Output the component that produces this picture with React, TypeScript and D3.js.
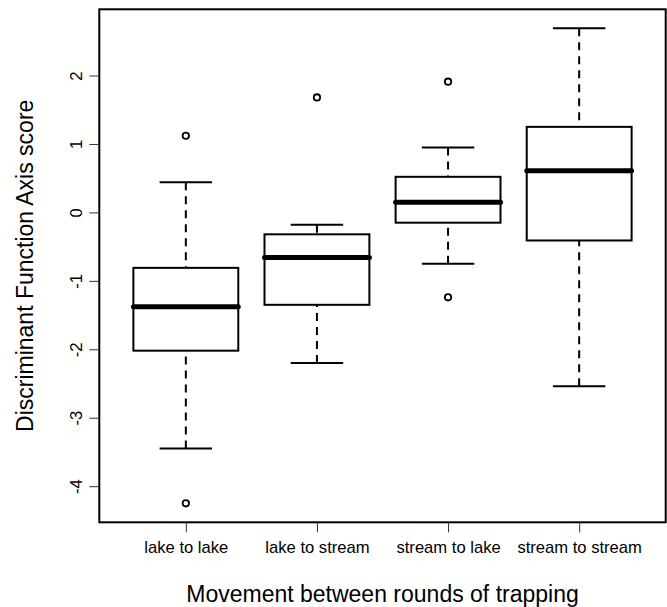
import React, { useRef, useEffect } from 'react';
import * as d3 from 'd3';

const categories = ['lake to lake', 'lake to stream', 'stream to lake', 'stream to stream'];
const whiskerLow = [-3.45, -2.2, -0.75, -2.54];
const q1 = [-2.02, -1.35, -0.15, -0.41];
const medians = [-1.38, -0.66, 0.15, 0.61];
const q3 = [-0.81, -0.32, 0.52, 1.25];
const whiskerHigh = [0.44, -0.18, 0.95, 2.69];
const outliers = [[1.12, -4.25], [1.68], [1.91, -1.24], []];
const yTicks = [-4, -3, -2, -1, 0, 1, 2];

const font = 'Liberation Sans, Arial, Helvetica, sans-serif';

const App = () => {
  const ref = useRef(null);

  useEffect(() => {
    const svg = d3.select(ref.current);
    svg.selectAll('*').remove();

    const left = 99.3, right = 665.7, top = 9.3, bottom = 522.3;

    // R style 4% extension of the data range
    const allVals = [...whiskerLow, ...whiskerHigh, ...outliers.flat()];
    const lo = d3.min(allVals), hi = d3.max(allVals);
    const ext = (hi - lo) * 0.04;

    const y = d3.scaleLinear().domain([lo - ext, hi + ext]).range([bottom, top]);
    const x = d3.scaleLinear()
      .domain([0.5 - 0.04 * categories.length, categories.length + 0.5 + 0.04 * categories.length])
      .range([left, right]);

    const boxHalf = x(1.4) - x(1);
    const stapleHalf = boxHalf / 2;

    const g = svg.append('g');

    categories.forEach((c, i) => {
      const cx = x(i + 1);
      // whiskers (drawn from the whisker end toward the box)
      g.append('line')
        .attr('x1', cx).attr('x2', cx)
        .attr('y1', y(whiskerHigh[i])).attr('y2', y(q3[i]))
        .attr('stroke', '#000').attr('stroke-width', 2).attr('stroke-dasharray', '8,6');
      g.append('line')
        .attr('x1', cx).attr('x2', cx)
        .attr('y1', y(whiskerLow[i])).attr('y2', y(q1[i]))
        .attr('stroke', '#000').attr('stroke-width', 2).attr('stroke-dasharray', '8,6');
      // staples
      [whiskerLow[i], whiskerHigh[i]].forEach(v => {
        g.append('line')
          .attr('x1', cx - stapleHalf).attr('x2', cx + stapleHalf)
          .attr('y1', y(v)).attr('y2', y(v))
          .attr('stroke', '#000').attr('stroke-width', 2);
      });
      // box
      g.append('rect')
        .attr('x', cx - boxHalf).attr('width', boxHalf * 2)
        .attr('y', y(q3[i])).attr('height', y(q1[i]) - y(q3[i]))
        .attr('fill', 'white').attr('stroke', '#000').attr('stroke-width', 2);
      // median
      g.append('line')
        .attr('x1', cx - boxHalf).attr('x2', cx + boxHalf)
        .attr('y1', y(medians[i])).attr('y2', y(medians[i]))
        .attr('stroke', '#000').attr('stroke-width', 5).attr('stroke-linecap', 'round');
      // outliers
      outliers[i].forEach(v => {
        g.append('circle')
          .attr('cx', cx).attr('cy', y(v)).attr('r', 3.2)
          .attr('fill', 'none').attr('stroke', '#000').attr('stroke-width', 1.8);
      });
    });

    // frame
    svg.append('rect')
      .attr('x', left).attr('y', top)
      .attr('width', right - left).attr('height', bottom - top)
      .attr('fill', 'none').attr('stroke', '#000').attr('stroke-width', 2);

    // y axis
    const yAxis = svg.append('g')
      .attr('transform', `translate(${left},0)`)
      .call(d3.axisLeft(y).tickValues(yTicks).tickSize(10).tickSizeOuter(0).tickFormat(d3.format('d')));
    yAxis.select('.domain').remove();
    yAxis.selectAll('.tick line').attr('stroke', '#333').attr('stroke-width', 1);
    yAxis.selectAll('.tick text')
      .attr('x', null).attr('dy', null)
      .attr('transform', 'translate(-17.5,0) rotate(-90)')
      .attr('text-anchor', 'middle')
      .attr('font-family', font).attr('font-size', 16.6).attr('fill', '#000')
      .text(d => String(d).replace('\u2212', '-'));

    // x axis
    const xAxis = svg.append('g')
      .attr('transform', `translate(0,${bottom})`)
      .call(d3.axisBottom(x).tickValues(categories.map((_, i) => i + 1)).tickSize(10).tickSizeOuter(0)
        .tickFormat((d) => categories[d - 1]));
    xAxis.select('.domain').remove();
    xAxis.selectAll('.tick line').attr('stroke', '#333').attr('stroke-width', 1);
    xAxis.selectAll('.tick text')
      .attr('y', 31).attr('dy', null)
      .attr('font-family', font).attr('font-size', 16.6).attr('fill', '#000');

    // titles
    svg.append('text')
      .attr('x', (left + right) / 2).attr('y', 601.5)
      .attr('text-anchor', 'middle')
      .attr('font-family', font).attr('font-size', 23)
      .text('Movement between rounds of trapping');

    svg.append('text')
      .attr('transform', `translate(33,${(top + bottom) / 2}) rotate(-90)`)
      .attr('text-anchor', 'middle')
      .attr('font-family', font).attr('font-size', 23)
      .text('Discriminant Function Axis score');
  }, []);

  return (
    <svg ref={ref} width={667} height={607}
      style={{ position: 'absolute', left: 0, top: 0, background: 'white' }} />
  );
};

export default App;
